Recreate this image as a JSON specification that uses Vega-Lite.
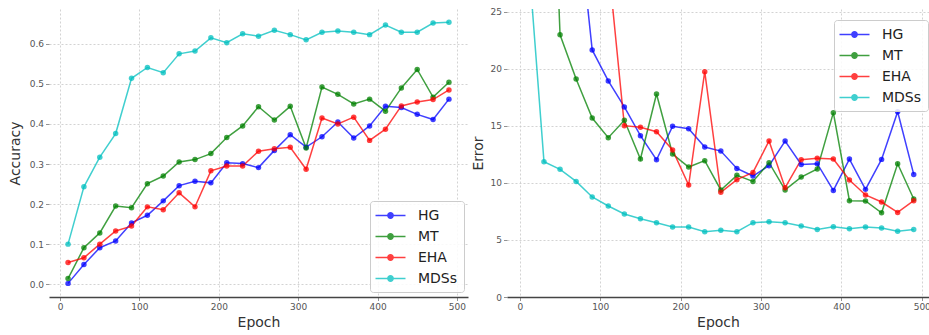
{
"$schema": "https://vega.github.io/schema/vega-lite/v6.json",
"padding": {"left": 8, "top": 7, "right": 0, "bottom": 0},
"spacing": 3,
"background": "white",
"config": {
  "view": {"stroke": null},
  "font": "DejaVu Sans",
  "axis": {"labelFont": "DejaVu Sans", "labelFontSize": 9, "labelColor": "#555555", "titleFont": "DejaVu Sans", "titleFontSize": 14, "titleFontWeight": "normal", "titleColor": "#333333", "gridColor": "#c8c8c8", "gridDash": [2, 2], "gridWidth": 0.8, "tickColor": "#777777", "tickSize": 3.5, "tickWidth": 0.8, "labelPadding": 2},
  "axisY": {"domain": false, "titlePadding": 7},
  "axisX": {"domainColor": "#444444", "domainWidth": 1.3, "titlePadding": 4},
  "legend": {"labelFont": "DejaVu Sans", "labelFontSize": 14, "labelColor": "#222222", "symbolType": "M-2,0H2M-0.35,0A0.35,0.35 0 1,0 0.35,0A0.35,0.35 0 1,0 -0.35,0", "symbolSize": 225, "symbolStrokeWidth": 1.5, "fillColor": "rgba(255,255,255,0.85)", "strokeColor": "#cccccc", "cornerRadius": 3, "padding": 6, "rowPadding": 5, "symbolOffset": 6, "labelOffset": 19, "title": null}
},
"datasets": {
"acc": [
{"model":"HG","epoch":10,"value":0.002},{"model":"HG","epoch":30,"value":0.049},{"model":"HG","epoch":50,"value":0.091},{"model":"HG","epoch":70,"value":0.108},{"model":"HG","epoch":90,"value":0.153},{"model":"HG","epoch":110,"value":0.172},{"model":"HG","epoch":130,"value":0.208},{"model":"HG","epoch":150,"value":0.246},{"model":"HG","epoch":170,"value":0.257},{"model":"HG","epoch":190,"value":0.253},{"model":"HG","epoch":210,"value":0.303},{"model":"HG","epoch":230,"value":0.301},{"model":"HG","epoch":250,"value":0.291},{"model":"HG","epoch":270,"value":0.334},{"model":"HG","epoch":290,"value":0.373},{"model":"HG","epoch":310,"value":0.342},{"model":"HG","epoch":330,"value":0.368},{"model":"HG","epoch":350,"value":0.405},{"model":"HG","epoch":370,"value":0.365},{"model":"HG","epoch":390,"value":0.395},{"model":"HG","epoch":410,"value":0.444},{"model":"HG","epoch":430,"value":0.441},{"model":"HG","epoch":450,"value":0.424},{"model":"HG","epoch":470,"value":0.411},{"model":"HG","epoch":490,"value":0.462},
{"model":"MT","epoch":10,"value":0.014},{"model":"MT","epoch":30,"value":0.091},{"model":"MT","epoch":50,"value":0.128},{"model":"MT","epoch":70,"value":0.195},{"model":"MT","epoch":90,"value":0.191},{"model":"MT","epoch":110,"value":0.251},{"model":"MT","epoch":130,"value":0.27},{"model":"MT","epoch":150,"value":0.305},{"model":"MT","epoch":170,"value":0.311},{"model":"MT","epoch":190,"value":0.326},{"model":"MT","epoch":210,"value":0.366},{"model":"MT","epoch":230,"value":0.395},{"model":"MT","epoch":250,"value":0.443},{"model":"MT","epoch":270,"value":0.41},{"model":"MT","epoch":290,"value":0.444},{"model":"MT","epoch":310,"value":0.34},{"model":"MT","epoch":330,"value":0.492},{"model":"MT","epoch":350,"value":0.474},{"model":"MT","epoch":370,"value":0.45},{"model":"MT","epoch":390,"value":0.462},{"model":"MT","epoch":410,"value":0.432},{"model":"MT","epoch":430,"value":0.49},{"model":"MT","epoch":450,"value":0.536},{"model":"MT","epoch":470,"value":0.467},{"model":"MT","epoch":490,"value":0.504},
{"model":"EHA","epoch":10,"value":0.054},{"model":"EHA","epoch":30,"value":0.066},{"model":"EHA","epoch":50,"value":0.1},{"model":"EHA","epoch":70,"value":0.133},{"model":"EHA","epoch":90,"value":0.145},{"model":"EHA","epoch":110,"value":0.193},{"model":"EHA","epoch":130,"value":0.186},{"model":"EHA","epoch":150,"value":0.228},{"model":"EHA","epoch":170,"value":0.193},{"model":"EHA","epoch":190,"value":0.283},{"model":"EHA","epoch":210,"value":0.295},{"model":"EHA","epoch":230,"value":0.295},{"model":"EHA","epoch":250,"value":0.332},{"model":"EHA","epoch":270,"value":0.338},{"model":"EHA","epoch":290,"value":0.342},{"model":"EHA","epoch":310,"value":0.287},{"model":"EHA","epoch":330,"value":0.415},{"model":"EHA","epoch":350,"value":0.4},{"model":"EHA","epoch":370,"value":0.417},{"model":"EHA","epoch":390,"value":0.359},{"model":"EHA","epoch":410,"value":0.387},{"model":"EHA","epoch":430,"value":0.445},{"model":"EHA","epoch":450,"value":0.455},{"model":"EHA","epoch":470,"value":0.461},{"model":"EHA","epoch":490,"value":0.485},
{"model":"MDSs","epoch":10,"value":0.1},{"model":"MDSs","epoch":30,"value":0.243},{"model":"MDSs","epoch":50,"value":0.317},{"model":"MDSs","epoch":70,"value":0.376},{"model":"MDSs","epoch":90,"value":0.514},{"model":"MDSs","epoch":110,"value":0.541},{"model":"MDSs","epoch":130,"value":0.528},{"model":"MDSs","epoch":150,"value":0.575},{"model":"MDSs","epoch":170,"value":0.582},{"model":"MDSs","epoch":190,"value":0.615},{"model":"MDSs","epoch":210,"value":0.603},{"model":"MDSs","epoch":230,"value":0.625},{"model":"MDSs","epoch":250,"value":0.619},{"model":"MDSs","epoch":270,"value":0.634},{"model":"MDSs","epoch":290,"value":0.623},{"model":"MDSs","epoch":310,"value":0.61},{"model":"MDSs","epoch":330,"value":0.629},{"model":"MDSs","epoch":350,"value":0.632},{"model":"MDSs","epoch":370,"value":0.629},{"model":"MDSs","epoch":390,"value":0.623},{"model":"MDSs","epoch":410,"value":0.647},{"model":"MDSs","epoch":430,"value":0.629},{"model":"MDSs","epoch":450,"value":0.629},{"model":"MDSs","epoch":470,"value":0.652},{"model":"MDSs","epoch":490,"value":0.654}
],
"err": [
{"model":"HG","epoch":10,"value":80},{"model":"HG","epoch":30,"value":60},{"model":"HG","epoch":50,"value":45},{"model":"HG","epoch":70,"value":35},{"model":"HG","epoch":90,"value":21.67},{"model":"HG","epoch":110,"value":18.95},{"model":"HG","epoch":130,"value":16.67},{"model":"HG","epoch":150,"value":14.15},{"model":"HG","epoch":170,"value":12.04},{"model":"HG","epoch":190,"value":14.97},{"model":"HG","epoch":210,"value":14.76},{"model":"HG","epoch":230,"value":13.16},{"model":"HG","epoch":250,"value":12.8},{"model":"HG","epoch":270,"value":11.28},{"model":"HG","epoch":290,"value":10.61},{"model":"HG","epoch":310,"value":11.52},{"model":"HG","epoch":330,"value":13.68},{"model":"HG","epoch":350,"value":11.63},{"model":"HG","epoch":370,"value":11.69},{"model":"HG","epoch":390,"value":9.35},{"model":"HG","epoch":410,"value":12.1},{"model":"HG","epoch":430,"value":9.44},{"model":"HG","epoch":450,"value":12.07},{"model":"HG","epoch":470,"value":16.25},{"model":"HG","epoch":490,"value":10.75},
{"model":"MT","epoch":10,"value":85},{"model":"MT","epoch":30,"value":59},{"model":"MT","epoch":50,"value":23.0},{"model":"MT","epoch":70,"value":19.12},{"model":"MT","epoch":90,"value":15.7},{"model":"MT","epoch":110,"value":13.97},{"model":"MT","epoch":130,"value":15.5},{"model":"MT","epoch":150,"value":12.1},{"model":"MT","epoch":170,"value":17.8},{"model":"MT","epoch":190,"value":12.54},{"model":"MT","epoch":210,"value":11.4},{"model":"MT","epoch":230,"value":11.96},{"model":"MT","epoch":250,"value":9.39},{"model":"MT","epoch":270,"value":10.67},{"model":"MT","epoch":290,"value":10.14},{"model":"MT","epoch":310,"value":11.78},{"model":"MT","epoch":330,"value":9.39},{"model":"MT","epoch":350,"value":10.52},{"model":"MT","epoch":370,"value":11.23},{"model":"MT","epoch":390,"value":16.17},{"model":"MT","epoch":410,"value":8.45},{"model":"MT","epoch":430,"value":8.42},{"model":"MT","epoch":450,"value":7.39},{"model":"MT","epoch":470,"value":11.69},{"model":"MT","epoch":490,"value":8.6},
{"model":"EHA","epoch":10,"value":90},{"model":"EHA","epoch":30,"value":70},{"model":"EHA","epoch":50,"value":55},{"model":"EHA","epoch":70,"value":42},{"model":"EHA","epoch":90,"value":35},{"model":"EHA","epoch":110,"value":29.3},{"model":"EHA","epoch":130,"value":15.03},{"model":"EHA","epoch":150,"value":14.88},{"model":"EHA","epoch":170,"value":14.5},{"model":"EHA","epoch":190,"value":12.89},{"model":"EHA","epoch":210,"value":9.82},{"model":"EHA","epoch":230,"value":19.76},{"model":"EHA","epoch":250,"value":9.18},{"model":"EHA","epoch":270,"value":10.29},{"model":"EHA","epoch":290,"value":10.93},{"model":"EHA","epoch":310,"value":13.68},{"model":"EHA","epoch":330,"value":9.59},{"model":"EHA","epoch":350,"value":12.04},{"model":"EHA","epoch":370,"value":12.16},{"model":"EHA","epoch":390,"value":12.1},{"model":"EHA","epoch":410,"value":10.26},{"model":"EHA","epoch":430,"value":8.95},{"model":"EHA","epoch":450,"value":8.33},{"model":"EHA","epoch":470,"value":7.42},{"model":"EHA","epoch":490,"value":8.45},
{"model":"MDSs","epoch":10,"value":30.4},{"model":"MDSs","epoch":30,"value":11.87},{"model":"MDSs","epoch":50,"value":11.2},{"model":"MDSs","epoch":70,"value":10.14},{"model":"MDSs","epoch":90,"value":8.77},{"model":"MDSs","epoch":110,"value":7.98},{"model":"MDSs","epoch":130,"value":7.28},{"model":"MDSs","epoch":150,"value":6.87},{"model":"MDSs","epoch":170,"value":6.52},{"model":"MDSs","epoch":190,"value":6.14},{"model":"MDSs","epoch":210,"value":6.14},{"model":"MDSs","epoch":230,"value":5.73},{"model":"MDSs","epoch":250,"value":5.85},{"model":"MDSs","epoch":270,"value":5.73},{"model":"MDSs","epoch":290,"value":6.52},{"model":"MDSs","epoch":310,"value":6.6},{"model":"MDSs","epoch":330,"value":6.52},{"model":"MDSs","epoch":350,"value":6.23},{"model":"MDSs","epoch":370,"value":5.93},{"model":"MDSs","epoch":390,"value":6.17},{"model":"MDSs","epoch":410,"value":5.99},{"model":"MDSs","epoch":430,"value":6.14},{"model":"MDSs","epoch":450,"value":6.05},{"model":"MDSs","epoch":470,"value":5.76},{"model":"MDSs","epoch":490,"value":5.93}
]
},
"hconcat": [
{
  "width": 419, "height": 288,
  "data": {"name": "acc"},
  "encoding": {
    "x": {"field": "epoch", "type": "quantitative", "scale": {"domain": [-14, 514], "nice": false, "zero": false}, "axis": {"values": [0, 100, 200, 300, 400, 500], "title": "Epoch"}},
    "y": {"field": "value", "type": "quantitative", "scale": {"domain": [-0.032, 0.687], "nice": false, "zero": false}, "axis": {"values": [0, 0.1, 0.2, 0.3, 0.4, 0.5, 0.6], "format": ".1f", "title": "Accuracy"}},
    "color": {"field": "model", "type": "nominal", "scale": {"domain": ["HG", "MT", "EHA", "MDSs"], "range": ["#0000ff", "#008000", "#ff0000", "#00bfbf"]},
      "legend": {"orient": "none", "legendX": 321, "legendY": 192,
        "encode": {"symbols": {"update": {"fill": {"scale": "color", "field": "value"}, "stroke": {"scale": "color", "field": "value"}, "opacity": {"value": 0.75}}}}}}
  },
  "layer": [
    {"mark": {"type": "line", "strokeWidth": 1.5, "opacity": 0.75}},
    {"mark": {"type": "point", "filled": true, "size": 30, "opacity": 0.75}}
  ]
},
{
  "width": 422, "height": 288,
  "data": {"name": "err"},
  "encoding": {
    "x": {"field": "epoch", "type": "quantitative", "scale": {"domain": [-16, 509], "nice": false, "zero": false}, "axis": {"values": [0, 100, 200, 300, 400, 500], "title": "Epoch"}},
    "y": {"field": "value", "type": "quantitative", "scale": {"domain": [0, 25.26], "nice": false, "zero": false}, "axis": {"values": [0, 5, 10, 15, 20, 25], "title": "Error", "titlePadding": 5}},
    "color": {"field": "model", "type": "nominal", "scale": {"domain": ["HG", "MT", "EHA", "MDSs"], "range": ["#0000ff", "#008000", "#ff0000", "#00bfbf"]},
      "legend": {"orient": "none", "legendX": 327, "legendY": 11,
        "encode": {"symbols": {"update": {"fill": {"scale": "color", "field": "value"}, "stroke": {"scale": "color", "field": "value"}, "opacity": {"value": 0.75}}}}}}
  },
  "layer": [
    {"mark": {"type": "line", "strokeWidth": 1.5, "opacity": 0.75, "clip": true}},
    {"mark": {"type": "point", "filled": true, "size": 30, "opacity": 0.75, "clip": true}}
  ]
}
],
"resolve": {"legend": {"color": "independent"}}
}
